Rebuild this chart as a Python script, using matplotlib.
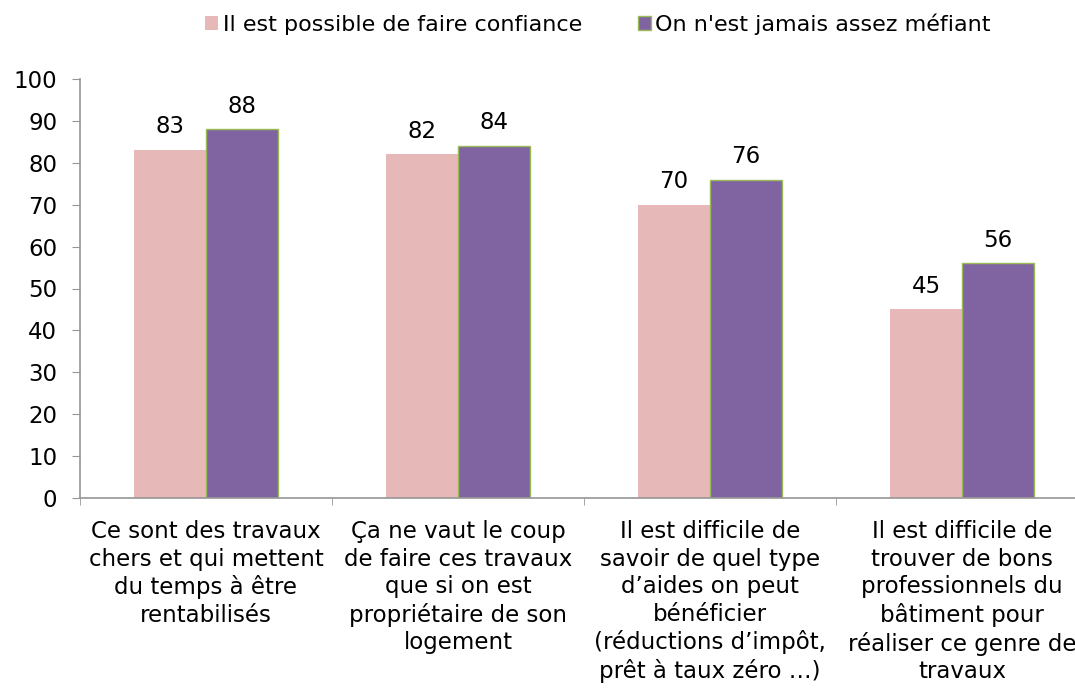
import numpy as np
import matplotlib.pyplot as plt
from matplotlib.ticker import FixedLocator

categories = [
    "Ce sont des travaux\nchers et qui mettent\ndu temps à être\nrentabilisés",
    "Ça ne vaut le coup\nde faire ces travaux\nque si on est\npropriétaire de son\nlogement",
    "Il est difficile de\nsavoir de quel type\nd’aides on peut\nbénéficier\n(réductions d’impôt,\nprêt à taux zéro …)",
    "Il est difficile de\ntrouver de bons\nprofessionnels du\nbâtiment pour\nréaliser ce genre de\ntravaux",
]
series_names = ["Il est possible de faire confiance", "On n'est jamais assez méfiant"]
confiance = [83, 82, 70, 45]
mefiant = [88, 84, 76, 56]
yticks = list(range(0, 101, 10))

pink = "#E6B8B7"
purple = "#8064A2"
green_edge = "#9BBB59"
grey = "#969696"

plt.rcParams['font.family'] = ['DejaVu Sans']
fs = 16.5

fig = plt.figure(figsize=(10.75, 6.88), dpi=100)
# axes extends a little past the right edge of the figure
ax = fig.add_axes([80 / 1075, 1 - 498 / 688, 1008 / 1075, (498 - 79) / 688])

x = np.arange(len(categories))
w = 0.286
b1 = ax.bar(x - w / 2, confiance, w, color=pink, linewidth=0, label=series_names[0])
b2 = ax.bar(x + w / 2, mefiant, w, color=purple, edgecolor=green_edge, linewidth=1.0,
            label=series_names[1])

for bars, vals in ((b1, confiance), (b2, mefiant)):
    for r, v in zip(bars, vals):
        ax.text(r.get_x() + r.get_width() / 2, v + 4.0, str(v), ha='center', va='baseline',
                fontsize=fs, color='black')

ax.set_xlim(-0.5, len(categories) - 0.5)
ax.set_ylim(0, 100)
ax.set_yticks(yticks)
ax.tick_params(axis='y', labelsize=fs, length=5.8, color=grey, pad=10.5)

ax.set_xticks(x)
ax.set_xticklabels(categories, fontsize=fs, linespacing=1.25, va='top')
ax.tick_params(axis='x', length=0, pad=16)
ax.xaxis.set_minor_locator(FixedLocator(np.arange(-0.5, len(categories), 1.0)))
ax.tick_params(axis='x', which='minor', length=5, color=grey)

for s in ('top', 'right'):
    ax.spines[s].set_visible(False)
for s in ('left', 'bottom'):
    ax.spines[s].set_color(grey)
    ax.spines[s].set_linewidth(1.2)

fig.legend(handles=[b1, b2], loc='center left', bbox_to_anchor=(205 / 1075, 1 - 24 / 688),
           ncol=2, frameon=False, fontsize=16, handlelength=0.6, handleheight=0.6,
           handletextpad=0.2, columnspacing=2.5, borderpad=0, borderaxespad=0)

fig.savefig("out.png", dpi=100)
